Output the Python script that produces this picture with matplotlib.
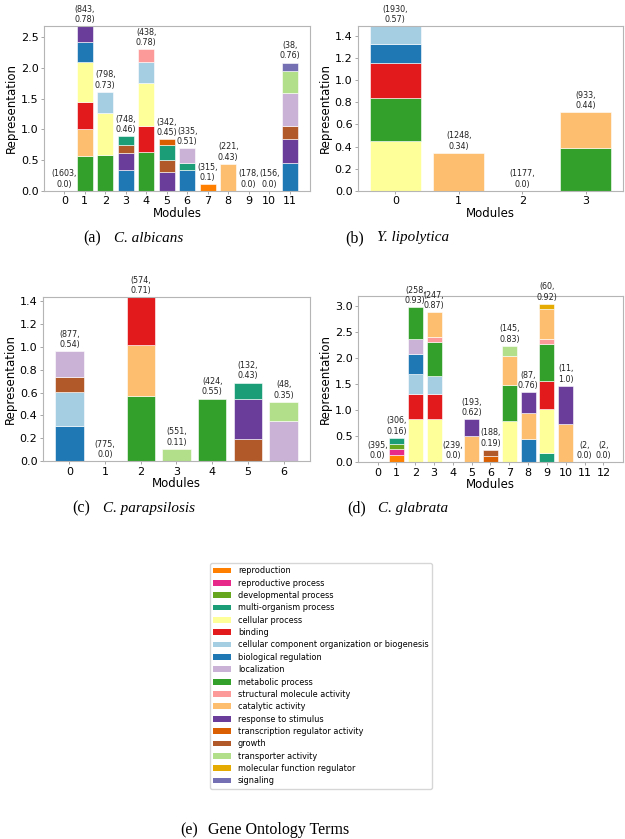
import matplotlib
matplotlib.use("Agg")
import matplotlib.pyplot as plt
from matplotlib.patches import Patch
from matplotlib.ticker import MultipleLocator

# ---------------- data ----------------
terms = ["reproduction", "reproductive process", "developmental process",
         "multi-organism process", "cellular process", "binding",
         "cellular component organization or biogenesis", "biological regulation",
         "localization", "metabolic process", "structural molecule activity",
         "catalytic activity", "response to stimulus",
         "transcription regulator activity", "growth", "transporter activity",
         "molecular function regulator", "signaling"]
term_colors = ["#ff7f00", "#e7298a", "#66a61e", "#1b9e77", "#ffff99", "#e31a1c",
               "#a6cee3", "#1f78b4", "#cab2d6", "#33a02c", "#fb9a99", "#fdbf6f",
               "#6a3d9a", "#d95f02", "#b15928", "#b2df8a", "#e6ab02", "#7570b3"]

# (a) C. albicans
albicans_counts = [1603, 843, 798, 748, 438, 342, 335, 315, 221, 178, 156, 38]
albicans_scores = [0.0, 0.78, 0.73, 0.46, 0.78, 0.45, 0.51, 0.1, 0.43, 0.0, 0.0, 0.76]
albicans_segments = [
    [],
    [("metabolic process", 0.565), ("catalytic activity", 0.435), ("binding", 0.44),
     ("cellular process", 0.66), ("biological regulation", 0.32), ("response to stimulus", 0.26)],
    [("metabolic process", 0.58), ("cellular process", 0.69),
     ("cellular component organization or biogenesis", 0.34)],
    [("biological regulation", 0.337), ("response to stimulus", 0.27), ("growth", 0.135),
     ("multi-organism process", 0.145)],
    [("metabolic process", 0.625), ("binding", 0.43), ("cellular process", 0.705),
     ("cellular component organization or biogenesis", 0.34), ("structural molecule activity", 0.20)],
    [("response to stimulus", 0.31), ("growth", 0.19), ("multi-organism process", 0.245),
     ("transcription regulator activity", 0.095)],
    [("biological regulation", 0.337), ("multi-organism process", 0.12), ("localization", 0.233)],
    [("reproduction", 0.109)],
    [("catalytic activity", 0.435)],
    [],
    [],
    [("biological regulation", 0.446), ("response to stimulus", 0.39), ("growth", 0.217),
     ("localization", 0.533), ("transporter activity", 0.364), ("signaling", 0.136)],
]

# (b) Y. lipolytica
lipolytica_counts = [1930, 1248, 1177, 933]
lipolytica_scores = [0.57, 0.34, 0.0, 0.44]
lipolytica_segments = [
    [("cellular process", 0.453), ("metabolic process", 0.383), ("binding", 0.317),
     ("biological regulation", 0.175), ("cellular component organization or biogenesis", 0.163)],
    [("catalytic activity", 0.344)],
    [],
    [("metabolic process", 0.383), ("catalytic activity", 0.329)],
]

# (c) C. parapsilosis
parapsilosis_counts = [877, 775, 574, 551, 424, 132, 48]
parapsilosis_scores = [0.54, 0.0, 0.71, 0.11, 0.55, 0.43, 0.35]
parapsilosis_segments = [
    [("biological regulation", 0.309), ("cellular component organization or biogenesis", 0.298),
     ("growth", 0.131), ("localization", 0.224)],
    [],
    [("metabolic process", 0.569), ("catalytic activity", 0.452), ("binding", 0.417)],
    [("transporter activity", 0.108)],
    [("metabolic process", 0.548)],
    [("growth", 0.19), ("response to stimulus", 0.352), ("multi-organism process", 0.146)],
    [("localization", 0.35), ("transporter activity", 0.169)],
]

# (d) C. glabrata
glabrata_counts = [395, 306, 258, 247, 239, 193, 188, 145, 87, 60, 11, 2, 2]
glabrata_scores = [0.0, 0.16, 0.93, 0.87, 0.0, 0.62, 0.19, 0.83, 0.76, 0.92, 1.0, 0.0, 0.0]
glabrata_segments = [
    [],
    [("reproduction", 0.129), ("reproductive process", 0.116), ("developmental process", 0.097),
     ("multi-organism process", 0.123)],
    [("cellular process", 0.819), ("binding", 0.484),
     ("cellular component organization or biogenesis", 0.394), ("biological regulation", 0.38),
     ("localization", 0.291), ("metabolic process", 0.612)],
    [("cellular process", 0.826), ("binding", 0.477),
     ("cellular component organization or biogenesis", 0.362), ("metabolic process", 0.645),
     ("structural molecule activity", 0.096), ("catalytic activity", 0.478)],
    [],
    [("catalytic activity", 0.503), ("response to stimulus", 0.323)],
    [("transcription regulator activity", 0.116), ("growth", 0.123)],
    [("cellular process", 0.794), ("metabolic process", 0.69), ("catalytic activity", 0.548),
     ("transporter activity", 0.207)],
    [("biological regulation", 0.439), ("catalytic activity", 0.509), ("response to stimulus", 0.394)],
    [("multi-organism process", 0.174), ("cellular process", 0.845), ("binding", 0.549),
     ("metabolic process", 0.709), ("structural molecule activity", 0.097),
     ("catalytic activity", 0.574), ("molecular function regulator", 0.097)],
    [("catalytic activity", 0.729), ("response to stimulus", 0.742)],
    [],
    [],
]

color_of = dict(zip(terms, term_colors))

W, H = 625, 839
fig = plt.figure(figsize=(W / 100, H / 100), dpi=100)


def px_axes(left, top, right, bottom):
    return fig.add_axes([left / W, 1 - bottom / H, (right - left) / W, (bottom - top) / H])


def draw_panel(ax, counts, scores, segments, top_margin, ystep):
    totals = []
    for i, segs in enumerate(segments):
        b = 0.0
        for term, h in segs:
            ax.bar(i, h, bottom=b, width=0.8, color=color_of[term],
                   edgecolor="white", linewidth=0.4)
            b += h
        totals.append(b)
        ax.annotate(f"({counts[i]},\n{scores[i]})", xy=(i, b), xytext=(0, 1.5),
                    textcoords="offset points", ha="center", va="bottom",
                    fontsize=5.8, color="#222222", annotation_clip=False)
    n = len(segments)
    ax.set_xlim(-0.4 - 0.05 * (n - 0.2), n - 1 + 0.4 + 0.05 * (n - 0.2))
    ax.set_ylim(0, max(totals) * top_margin)
    ax.yaxis.set_major_locator(MultipleLocator(ystep))
    ax.set_xticks(range(n))
    ax.tick_params(labelsize=8, length=2.5, width=0.6, color="#999999", pad=1.5)
    for s in ax.spines.values():
        s.set_color("#b5b5b5")
        s.set_linewidth(0.8)
    ax.set_xlabel("Modules", fontsize=8.5, labelpad=0.5)
    ax.set_ylabel("Representation", fontsize=8.5, labelpad=2)


ax_a = px_axes(44, 26, 310, 190.7)
draw_panel(ax_a, albicans_counts, albicans_scores, albicans_segments, 1.0, 0.5)
ax_b = px_axes(358, 26, 623, 190.7)
draw_panel(ax_b, lipolytica_counts, lipolytica_scores, lipolytica_segments, 1.0, 0.2)
ax_c = px_axes(43, 297, 310, 461)
draw_panel(ax_c, parapsilosis_counts, parapsilosis_scores, parapsilosis_segments, 1.0, 0.2)
ax_d = px_axes(358, 296, 623, 462)
draw_panel(ax_d, glabrata_counts, glabrata_scores, glabrata_segments, 1.05, 0.5)

# legend
handles = [Patch(facecolor=c, edgecolor="none", label=t) for t, c in zip(terms, term_colors)]
fig.legend(handles=handles, loc="upper left", bbox_to_anchor=(210 / W, 1 - 563 / H),
           fontsize=5.9, handlelength=2.2, handleheight=0.7, labelspacing=0.41,
           borderaxespad=0, frameon=True, edgecolor="#cccccc")

# captions
serif = "Liberation Serif"
fs_cap = 11.5
fs_ital = 10.9
captions = [
    ("(a)", "C. albicans", 101, 114, 238),
    ("(b)", "Y. lipolytica", 364, 377, 238),
    ("(c)", "C. parapsilosis", 90, 103, 508.5),
    ("(d)", "C. glabrata", 366, 378, 508.5),
]
for lab, name, xl, xr, y in captions:
    fig.text(xl / W, 1 - y / H, lab, ha="right", va="center", fontsize=fs_cap, family=serif)
    fig.text(xr / W, 1 - y / H, name, ha="left", va="center", fontsize=fs_ital, family=serif,
             style="italic")
fig.text(198 / W, 1 - 830 / H, "(e)", ha="right", va="center", fontsize=fs_cap, family=serif)
fig.text(208 / W, 1 - 830 / H, "Gene Ontology Terms", ha="left", va="center",
         fontsize=fs_cap, family=serif)

fig.savefig("out.png", dpi=100)
